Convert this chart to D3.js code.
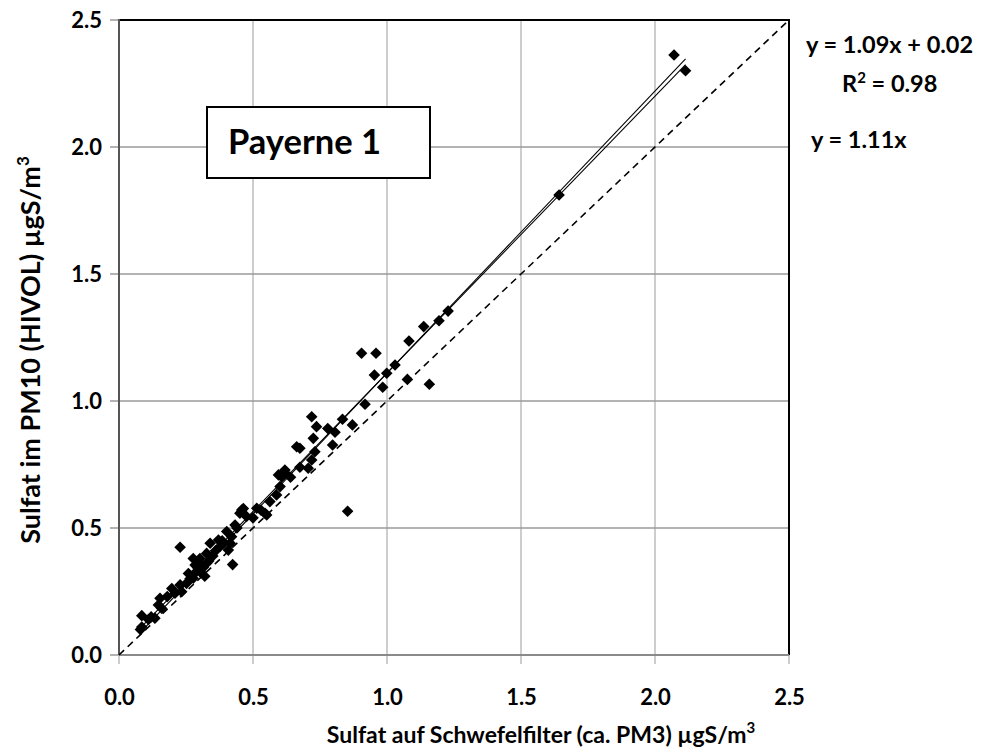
<!DOCTYPE html>
<html><head><meta charset="utf-8">
<script src="https://cdn.jsdelivr.net/npm/d3@7"></script>
<style>body{margin:0;background:#fff}svg text{font-family:Lato,"Open Sans",sans-serif;font-weight:bold;fill:#000}</style>
</head><body>
<script>
const xValues = [0.08,0.085,0.085,0.11,0.134,0.147,0.159,0.153,0.197,0.209,0.234,0.228,0.252,0.277,0.259,0.302,0.284,0.327,0.315,0.296,0.302,0.277,0.327,0.340,0.371,0.377,0.350,0.390,0.320,0.290,0.310,0.228,0.424,0.408,0.420,0.402,0.433,0.440,0.476,0.451,0.458,0.464,0.514,0.545,0.551,0.563,0.588,0.601,0.607,0.595,0.619,0.619,0.663,0.675,0.706,0.719,0.731,0.675,0.797,0.725,0.806,0.779,0.737,0.871,0.834,0.719,0.918,0.853,0.984,0.999,1.030,0.953,0.905,0.959,1.076,1.158,1.082,1.137,1.194,1.228,1.642,2.071,2.114,0.265,0.300,0.335,0.360,0.385,0.415,0.500,0.530,0.640,0.180,0.120];
const yValues = [0.10,0.11,0.155,0.14,0.145,0.197,0.184,0.223,0.262,0.243,0.249,0.276,0.282,0.302,0.321,0.328,0.354,0.361,0.345,0.341,0.380,0.380,0.400,0.440,0.453,0.427,0.390,0.440,0.310,0.330,0.350,0.424,0.356,0.413,0.466,0.486,0.512,0.500,0.545,0.558,0.571,0.577,0.578,0.558,0.551,0.604,0.630,0.663,0.702,0.709,0.718,0.728,0.820,0.739,0.735,0.768,0.800,0.814,0.827,0.853,0.877,0.892,0.899,0.906,0.928,0.938,0.987,0.566,1.054,1.109,1.142,1.102,1.188,1.188,1.085,1.066,1.236,1.293,1.316,1.354,1.811,2.362,2.300,0.300,0.360,0.370,0.410,0.450,0.440,0.540,0.570,0.700,0.230,0.150];
const tickValues = [0, 0.5, 1.0, 1.5, 2.0, 2.5];
const tickLabels = ["0.0","0.5","1.0","1.5","2.0","2.5"];
const fitSlope = 1.09, fitIntercept = 0.02, originSlope = 1.11;
const eqLabels = ["y = 1.09x + 0.02", "R² = 0.98", "y = 1.11x"];
const titleLabel = "Payerne 1";

const W = 981, H = 751;
const L = 119, R = 789, T = 20, B = 655;
const svg = d3.select("body").append("svg").attr("width", W).attr("height", H);
const x = d3.scaleLinear().domain([0, 2.5]).range([L, R]);
const y = d3.scaleLinear().domain([0, 2.5]).range([B, T]);

// grid
const grid = svg.append("g");
grid.selectAll(".gx").data(tickValues.slice(1, -1)).enter().append("line")
  .attr("x1", d => x(d)).attr("x2", d => x(d)).attr("y1", T).attr("y2", B + 9)
  .attr("stroke", "#bdbdbd").attr("stroke-width", 1.5);
grid.selectAll(".gy").data(tickValues.slice(1, -1)).enter().append("line")
  .attr("y1", d => y(d)).attr("y2", d => y(d)).attr("x1", L - 9).attr("x2", R)
  .attr("stroke", "#9a9a9a").attr("stroke-width", 1.5);
svg.append("line").attr("x1", L - 9).attr("x2", L).attr("y1", y(2.5)).attr("y2", y(2.5)).attr("stroke", "#9a9a9a").attr("stroke-width", 1.5);
svg.append("line").attr("x1", L - 9).attr("x2", L).attr("y1", y(0)).attr("y2", y(0)).attr("stroke", "#9a9a9a").attr("stroke-width", 1.5);
svg.append("line").attr("x1", x(0)).attr("x2", x(0)).attr("y1", B).attr("y2", B + 9).attr("stroke", "#bdbdbd").attr("stroke-width", 1.5);
svg.append("line").attr("x1", x(2.5)).attr("x2", x(2.5)).attr("y1", B).attr("y2", B + 9).attr("stroke", "#bdbdbd").attr("stroke-width", 1.5);

// border
svg.append("line").attr("x1", L).attr("x2", R + 1).attr("y1", T).attr("y2", T).attr("stroke", "#000").attr("stroke-width", 2);
svg.append("line").attr("x1", R).attr("x2", R).attr("y1", T).attr("y2", B).attr("stroke", "#000").attr("stroke-width", 2);
svg.append("line").attr("x1", L).attr("x2", L).attr("y1", T - 1).attr("y2", B).attr("stroke", "#555").attr("stroke-width", 2);
svg.append("line").attr("x1", L).attr("x2", R).attr("y1", B).attr("y2", B).attr("stroke", "#8a8a8a").attr("stroke-width", 2);

// axes labels
const xAxis = d3.axisBottom(x).tickValues(tickValues).tickFormat((d, i) => tickLabels[i]).tickSize(0).tickPadding(0);
const gx = svg.append("g").attr("transform", `translate(0,${B + 35})`).call(xAxis);
gx.select(".domain").remove();
gx.selectAll("text").style("font-size", "22px").attr("dy", "0.7em");
const yAxis = d3.axisLeft(y).tickValues(tickValues).tickFormat((d, i) => tickLabels[i]).tickSize(0).tickPadding(0);
const gy = svg.append("g").attr("transform", `translate(${L - 17},0)`).call(yAxis);
gy.select(".domain").remove();
gy.selectAll("text").style("font-size", "22px").attr("dy", "0.35em");

// 1:1 dashed line
svg.append("line").attr("x1", x(0)).attr("y1", y(0)).attr("x2", x(2.5)).attr("y2", y(2.5))
  .attr("stroke", "#000").attr("stroke-width", 1.6).attr("stroke-dasharray", "7,5");

// trend lines
const xmin = d3.min(xValues), xmax = d3.max(xValues);
svg.append("line").attr("x1", x(xmin)).attr("y1", y(fitSlope * xmin + fitIntercept))
  .attr("x2", x(xmax)).attr("y2", y(fitSlope * xmax + fitIntercept)).attr("stroke", "#000").attr("stroke-width", 1.1);
svg.append("line").attr("x1", x(xmin)).attr("y1", y(originSlope * xmin))
  .attr("x2", x(xmax)).attr("y2", y(originSlope * xmax)).attr("stroke", "#000").attr("stroke-width", 1.1);

// points
const pts = xValues.map((v, i) => [v, yValues[i]]);
const r = 5.8;
svg.append("g").selectAll("path").data(pts).enter().append("path")
  .attr("d", d => `M${x(d[0])},${y(d[1]) - r}L${x(d[0]) + r},${y(d[1])}L${x(d[0])},${y(d[1]) + r}L${x(d[0]) - r},${y(d[1])}Z`)
  .attr("fill", "#000");

// title box
svg.append("rect").attr("x", 207).attr("y", 107).attr("width", 223).attr("height", 71)
  .attr("fill", "#fff").attr("stroke", "#000").attr("stroke-width", 2);
svg.append("text").attr("x", 228).attr("y", 154).style("font-size", "34.5px").text(titleLabel);

// equations
svg.append("text").attr("x", 806).attr("y", 53).style("font-size", "23.5px").text(eqLabels[0]);
const r2 = svg.append("text").attr("x", 842).attr("y", 92).style("font-size", "23.5px");
r2.append("tspan").text("R");
r2.append("tspan").attr("dy", -9).style("font-size", "15px").text("2");
r2.append("tspan").attr("dy", 9).text(" = 0.98");
svg.append("text").attr("x", 811).attr("y", 148).style("font-size", "23.5px").text(eqLabels[2]);

// axis titles
const xt = svg.append("text").attr("x", 541).attr("y", 743).attr("text-anchor", "middle").style("font-size", "23px");
xt.append("tspan").text("Sulfat auf Schwefelfilter (ca. PM3) µgS/m");
xt.append("tspan").attr("dy", -10).style("font-size", "15px").text("3");
const yt = svg.append("text").attr("transform", "translate(40,350) rotate(-90)").attr("text-anchor", "middle").style("font-size", "27px");
yt.append("tspan").text("Sulfat im PM10 (HIVOL) µgS/m");
yt.append("tspan").attr("dy", -11).style("font-size", "17px").text("3");
</script>
</body></html>
